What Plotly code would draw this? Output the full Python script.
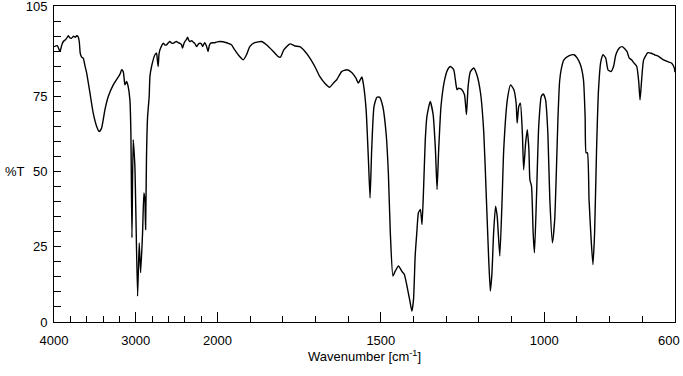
import numpy as np
import plotly.graph_objects as go

wavenumber = [
    4000, 3960, 3927, 3905, 3886, 3860, 3840, 3825, 3805, 3784, 3760, 3740, 3722, 3705, 3691, 3680,
    3674, 3660, 3642, 3620, 3600, 3560, 3520, 3478, 3446, 3417, 3377, 3336, 3275, 3214, 3190, 3172,
    3153, 3140, 3132, 3111, 3092, 3071, 3059, 3046, 3031, 3010, 2977, 2957, 2940, 2916, 2900, 2888,
    2879, 2868, 2855, 2835, 2826, 2806, 2765, 2745, 2735, 2725, 2715, 2704, 2664, 2640, 2622, 2600,
    2582, 2560, 2542, 2520, 2500, 2480, 2460, 2440, 2427, 2410, 2399, 2380, 2366, 2350, 2337, 2315,
    2297, 2275, 2255, 2235, 2215, 2195, 2182, 2165, 2154, 2135, 2114, 2100, 2084, 2060, 2032, 2000,
    1993, 1972, 1957, 1947, 1932, 1921, 1911, 1901, 1886, 1865, 1850, 1829, 1814, 1807, 1797, 1778,
    1763, 1748, 1732, 1717, 1702, 1687, 1672, 1657, 1645, 1635, 1620, 1604, 1589, 1576, 1569, 1558,
    1553, 1545, 1538, 1533, 1528, 1521, 1512, 1504, 1494, 1484, 1477, 1471, 1463, 1456, 1446, 1436,
    1428, 1420, 1412, 1405, 1400, 1395, 1390, 1385, 1379, 1374, 1369, 1364, 1359, 1349, 1340, 1333,
    1328, 1323, 1316, 1306, 1296, 1287, 1277, 1272, 1267, 1262, 1252, 1244, 1238, 1233, 1226, 1216,
    1206, 1195, 1185, 1177, 1170, 1165, 1160, 1155, 1149, 1144, 1136, 1129, 1124, 1113, 1103, 1093,
    1086, 1083, 1078, 1073, 1067, 1063, 1057, 1052, 1047, 1044, 1039, 1034, 1030, 1024, 1017, 1009,
    1003, 996, 989, 983, 975, 968, 963, 958, 953, 948, 940, 925, 909, 899, 889, 880,
    875, 872, 868, 863, 856, 851, 846, 840, 834, 827, 820, 812, 805, 796, 788, 781,
    771, 761, 747, 740, 733, 725, 717, 711, 707, 702, 696, 683, 673, 663, 653, 638,
    622, 610, 602, 600,
]

transmittance = [
    91.5, 91.8, 89.9, 92.0, 93.2, 93.8, 94.5, 95.1, 94.4, 94.3, 95.0, 94.6, 95.1, 94.8, 93.2, 89.5,
    88.8, 88.0, 87.7, 85.0, 82.7, 76.1, 69.4, 65.0, 63.3, 64.5, 70.5, 74.9, 78.8, 81.4, 82.5, 83.8,
    83.2, 80.5, 78.8, 79.9, 78.2, 73.8, 62.9, 28.0, 60.6, 51.7, 8.6, 26.3, 16.4, 29.6, 42.9, 40.7,
    30.7, 55.0, 68.0, 75.0, 81.6, 84.9, 88.8, 89.3, 87.0, 84.9, 89.0, 90.4, 92.6, 92.0, 92.1, 92.8,
    93.2, 92.7, 92.6, 93.0, 93.2, 92.8, 92.6, 92.2, 91.0, 92.5, 93.2, 93.8, 94.6, 93.6, 93.2, 93.5,
    93.0, 92.5, 91.5, 92.3, 92.6, 92.4, 91.5, 92.4, 92.8, 91.8, 89.9, 91.8, 92.6, 92.8, 92.8, 93.1,
    93.2, 92.8, 92.1, 90.4, 88.2, 87.1, 88.8, 91.5, 92.8, 93.2, 92.1, 89.9, 88.2, 88.0, 90.4, 92.4,
    91.7, 91.5, 89.9, 87.7, 84.9, 81.6, 79.4, 78.0, 79.4, 80.5, 83.2, 83.8, 82.9, 81.0, 79.4, 81.4,
    78.8, 70.5, 53.9, 41.2, 57.3, 71.6, 74.7, 74.7, 71.6, 62.8, 49.5, 29.6, 15.3, 16.9, 18.6, 16.9,
    15.8, 11.9, 7.5, 3.6, 7.5, 21.9, 29.6, 36.3, 37.4, 32.4, 45.1, 60.6, 68.3, 73.3, 68.9, 57.3,
    44.0, 57.3, 71.6, 79.9, 83.8, 84.9, 83.8, 80.5, 77.2, 77.7, 77.2, 75.5, 68.9, 78.3, 83.2, 84.4,
    82.1, 76.1, 62.8, 40.7, 20.8, 10.3, 16.4, 29.6, 38.5, 35.1, 21.9, 40.7, 57.3, 73.8, 78.8, 77.2,
    72.7, 66.1, 71.6, 72.7, 62.8, 50.6, 59.5, 63.9, 57.3, 47.3, 45.1, 29.6, 23.0, 40.7, 65.0, 75.0,
    75.8, 73.8, 62.8, 40.7, 26.3, 34.1, 50.0, 68.0, 80.0, 84.0, 87.1, 88.4, 88.8, 87.7, 85.4, 80.5,
    68.3, 56.2, 56.2, 40.7, 26.3, 19.1, 29.6, 57.3, 77.2, 86.5, 88.8, 87.7, 83.8, 83.2, 84.9, 88.8,
    91.0, 91.5, 89.9, 87.7, 87.1, 86.0, 84.9, 79.9, 73.8, 80.5, 87.1, 89.5, 89.3, 88.8, 88.4, 87.3,
    86.5, 86.0, 84.4, 83.0,
]

major_ticks = [4000, 3000, 2000, 1500, 1000, 600]
minor_ticks = [3800, 3600, 3400, 3200, 2800, 2600, 2400, 2200,
               1900, 1800, 1700, 1600, 1400, 1300, 1200, 1100, 900, 800, 700]
y_labels = [0, 25, 50, 75, 105]
y_minor = list(range(0, 106, 5))


def to_axis(w):
    """Instrument x-scale: 4000-2000 compressed 4x relative to 2000-600."""
    w = np.asarray(w, dtype=float)
    return np.where(w >= 2000, (4000 - w) / 4.0, 500 + (2000 - w))


FONT = "Liberation Sans, Arial, sans-serif"
W, H = 683, 376
ML, MR, MT, MB = 54, 8, 6, 54
PLOT_W, PLOT_H = W - ML - MR, H - MT - MB

# the right-end label sits flush with the page edge, as in the reference
tick_text = [str(t) if t != 600 else "" for t in major_ticks]

fig = go.Figure()
fig.add_trace(go.Scatter(
    x=to_axis(wavenumber), y=transmittance, mode="lines",
    line=dict(color="black", width=1.4, shape="spline", smoothing=0.5),
    showlegend=False, hoverinfo="skip",
))

fig.update_layout(
    width=W, height=H,
    margin=dict(l=ML, r=MR, t=MT, b=MB, autoexpand=False),
    paper_bgcolor="white", plot_bgcolor="white",
    font=dict(family=FONT, size=13, color="black"),
    xaxis=dict(
        range=[0, 1900], showgrid=False, zeroline=False, automargin=False,
        showline=True, mirror=True, linecolor="black", linewidth=1,
        ticks="inside", ticklen=10, tickcolor="black", tickwidth=1,
        tickmode="array", tickvals=to_axis(major_ticks).tolist(),
        ticktext=tick_text,
        minor=dict(tickmode="array", tickvals=to_axis(minor_ticks).tolist(),
                   ticks="inside", ticklen=6, tickcolor="black", tickwidth=1, showgrid=False),
        title=dict(text="Wavenumber [cm<sup>-1</sup>]", standoff=4, font=dict(size=13)),
        tickfont=dict(size=13),
        ticklabelstandoff=6,
        ticklabeloverflow="allow",
    ),
    yaxis=dict(
        range=[0, 105], showgrid=False, zeroline=False, automargin=False,
        showline=True, mirror=True, linecolor="black", linewidth=1,
        ticks="inside", ticklen=7, tickcolor="black", tickwidth=1,
        tickmode="array", tickvals=y_labels, ticktext=[str(v) for v in y_labels],
        minor=dict(tickmode="array", tickvals=y_minor,
                   ticks="inside", ticklen=7, tickcolor="black", tickwidth=1, showgrid=False),
        ticklabelstandoff=3,
        ticklabeloverflow="allow",
        tickfont=dict(size=13),
    ),
    annotations=[
        dict(text="%T", xref="paper", yref="y", x=-0.063, y=50,
             xanchor="center", yanchor="middle", showarrow=False,
             font=dict(family=FONT, size=13, color="black")),
        dict(text="600", xref="paper", yref="paper",
             x=(W - 1 - ML) / PLOT_W, y=-18 / PLOT_H,
             xanchor="right", yanchor="middle", showarrow=False,
             font=dict(family=FONT, size=13, color="black")),
    ],
)

fig.write_html("out.html", config={"displayModeBar": False},
               post_script="document.body.style.margin='0';")
